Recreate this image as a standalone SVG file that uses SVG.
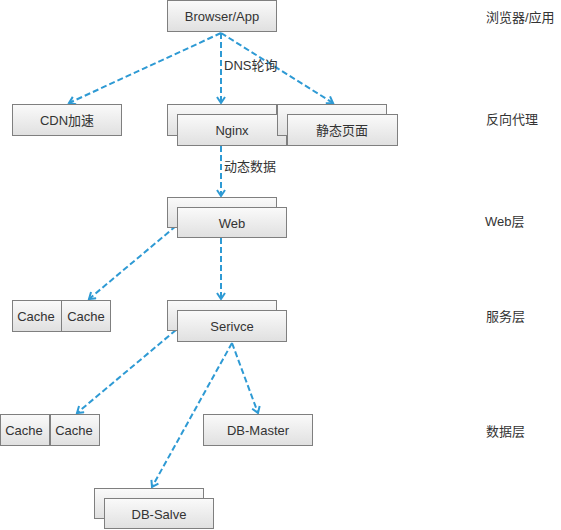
<svg xmlns="http://www.w3.org/2000/svg" width="561" height="530" viewBox="0 0 561 530">
<style>
.b{fill:url(#g);stroke:#7f7f7f;stroke-width:1}
.t{font-family:"Liberation Sans","Noto Sans CJK SC",sans-serif;font-size:13px;fill:#333;text-anchor:middle;dominant-baseline:central}
.l{font-family:"Liberation Sans","Noto Sans CJK SC",sans-serif;font-size:13px;fill:#333;dominant-baseline:central}
.c{fill:none;stroke:#2e9ad4;stroke-width:2;stroke-dasharray:6,3;marker-end:url(#a)}
</style>
<defs>
<linearGradient id="g" x1="0" y1="0" x2="0" y2="1">
<stop offset="0" stop-color="#fafafa"/>
<stop offset="1" stop-color="#e0e0e0"/>
</linearGradient>
<marker id="a" markerWidth="10" markerHeight="10" refX="7" refY="5" orient="auto" markerUnits="userSpaceOnUse">
<path d="M1,1 L7,5 L1,9" fill="none" stroke="#2e9ad4" stroke-width="2"/>
</marker>
</defs>
<g id="connectors">
<path class="c" d="M221,33 L69,103"/>
<path class="c" d="M221,33 L221,103"/>
<path class="c" d="M221,33 L333,103"/>
<path class="c" d="M221,146 L221,196"/>
<path class="c" d="M176,226 L89,299"/>
<path class="c" d="M221,238 L221,299"/>
<path class="c" d="M176,330 L77,413"/>
<path class="c" d="M232,343 L258,413"/>
<path class="c" d="M232,343 L152,487"/>
</g>
<g id="browser"><rect class="b" x="167.5" y="0.5" width="109" height="31"/><text class="t" x="222" y="16">Browser/App</text></g>
<g id="cdn"><rect class="b" x="12.5" y="104.5" width="109" height="31"/><text class="t" x="67" y="120">CDN加速</text></g>
<g id="nginx"><rect class="b" x="167.5" y="104.5" width="109" height="31"/><rect class="b" x="177.5" y="114.5" width="109" height="31"/><text class="t" x="232" y="130">Nginx</text></g>
<g id="static"><rect class="b" x="277.5" y="104.5" width="109" height="31"/><rect class="b" x="287.5" y="114.5" width="110" height="31"/><text class="t" x="342" y="130">静态页面</text></g>
<g id="web"><rect class="b" x="167.5" y="197.5" width="109" height="30"/><rect class="b" x="177.5" y="207.5" width="109" height="30"/><text class="t" x="232" y="223">Web</text></g>
<g id="cache1"><rect class="b" x="12.5" y="300.5" width="49" height="31"/><text class="t" x="36" y="316">Cache</text></g>
<g id="cache2"><rect class="b" x="61.5" y="300.5" width="49" height="31"/><text class="t" x="86" y="316">Cache</text></g>
<g id="service"><rect class="b" x="167.5" y="300.5" width="109" height="30"/><rect class="b" x="177.5" y="310.5" width="109" height="31"/><text class="t" x="232" y="326">Serivce</text></g>
<g id="cache3"><rect class="b" x="0.5" y="414.5" width="49" height="31"/><text class="t" x="24" y="430">Cache</text></g>
<g id="cache4"><rect class="b" x="50.5" y="414.5" width="49" height="31"/><text class="t" x="74" y="430">Cache</text></g>
<g id="dbmaster"><rect class="b" x="203.5" y="414.5" width="109" height="31"/><text class="t" x="258" y="430">DB-Master</text></g>
<g id="dbsalve"><rect class="b" x="94.5" y="488.5" width="109" height="30"/><rect class="b" x="104.5" y="498.5" width="109" height="30"/><text class="t" x="159" y="514">DB-Salve</text></g>
<g id="labels">
<text class="l" x="224" y="65">DNS轮询</text>
<text class="l" x="224" y="166">动态数据</text>
<text class="l" x="486" y="17">浏览器/应用</text>
<text class="l" x="486" y="119">反向代理</text>
<text class="l" x="485" y="221">Web层</text>
<text class="l" x="486" y="316">服务层</text>
<text class="l" x="486" y="431">数据层</text>
</g>
</svg>
